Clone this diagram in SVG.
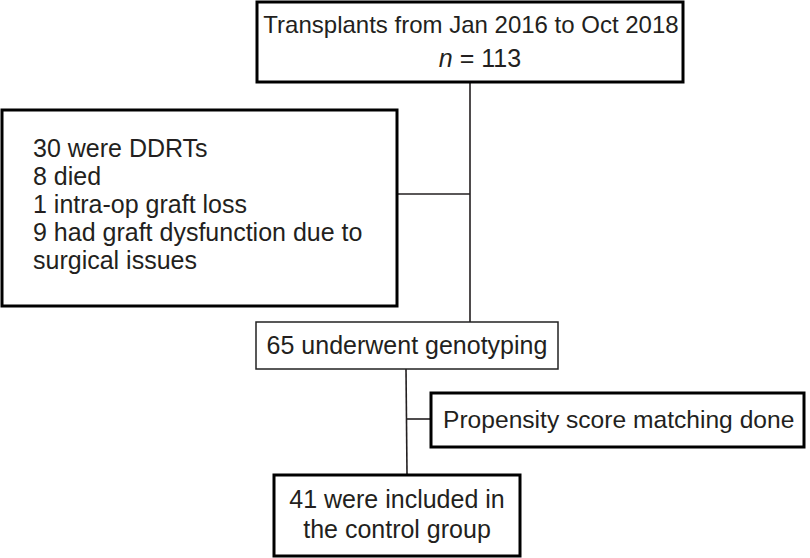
<svg xmlns="http://www.w3.org/2000/svg" width="810" height="558" viewBox="0 0 810 558">
<style>
.box{fill:#fff;stroke:#000;stroke-width:3}
.thin{fill:#fff;stroke:#222;stroke-width:1.5}
.t{font-family:"Liberation Sans",Arial,sans-serif;font-size:25px;fill:#231f20}
.c{text-anchor:middle}
.ln{stroke:#231f20;stroke-width:1.6;fill:none}
</style>
<rect width="810" height="558" fill="#fff"/>
<g id="connectors">
<line class="ln" x1="470" y1="82" x2="470" y2="322"/>
<line class="ln" x1="397" y1="194" x2="470" y2="194"/>
<line class="ln" x1="406" y1="369" x2="407" y2="474"/>
<line class="ln" x1="406" y1="419" x2="431" y2="419"/>
</g>
<g id="n1">
<rect class="box" x="257" y="2" width="426" height="80"/>
<text class="t c" x="471" y="33" style="font-size:24px">Transplants from Jan 2016 to Oct 2018</text>
<text class="t c" x="480" y="67"><tspan font-style="italic">n</tspan> = 113</text>
</g>
<g id="n2">
<rect class="box" x="2" y="110" width="395" height="196"/>
<text class="t" x="33" y="157">30 were DDRTs</text>
<text class="t" x="33" y="185">8 died</text>
<text class="t" x="33" y="213">1 intra-op graft loss</text>
<text class="t" x="33" y="241">9 had graft dysfunction due to</text>
<text class="t" x="33" y="269">surgical issues</text>
</g>
<g id="n3">
<rect class="thin" x="256" y="322" width="302" height="47"/>
<text class="t c" x="407" y="354">65 underwent genotyping</text>
</g>
<g id="n4">
<rect class="box" x="431" y="393" width="373" height="54"/>
<text class="t" x="443" y="428" style="font-size:24.6px">Propensity score matching done</text>
</g>
<g id="n5">
<rect class="box" x="274" y="475" width="246" height="81"/>
<text class="t c" x="397" y="508">41 were included in</text>
<text class="t c" x="397" y="538">the control group</text>
</g>
</svg>
